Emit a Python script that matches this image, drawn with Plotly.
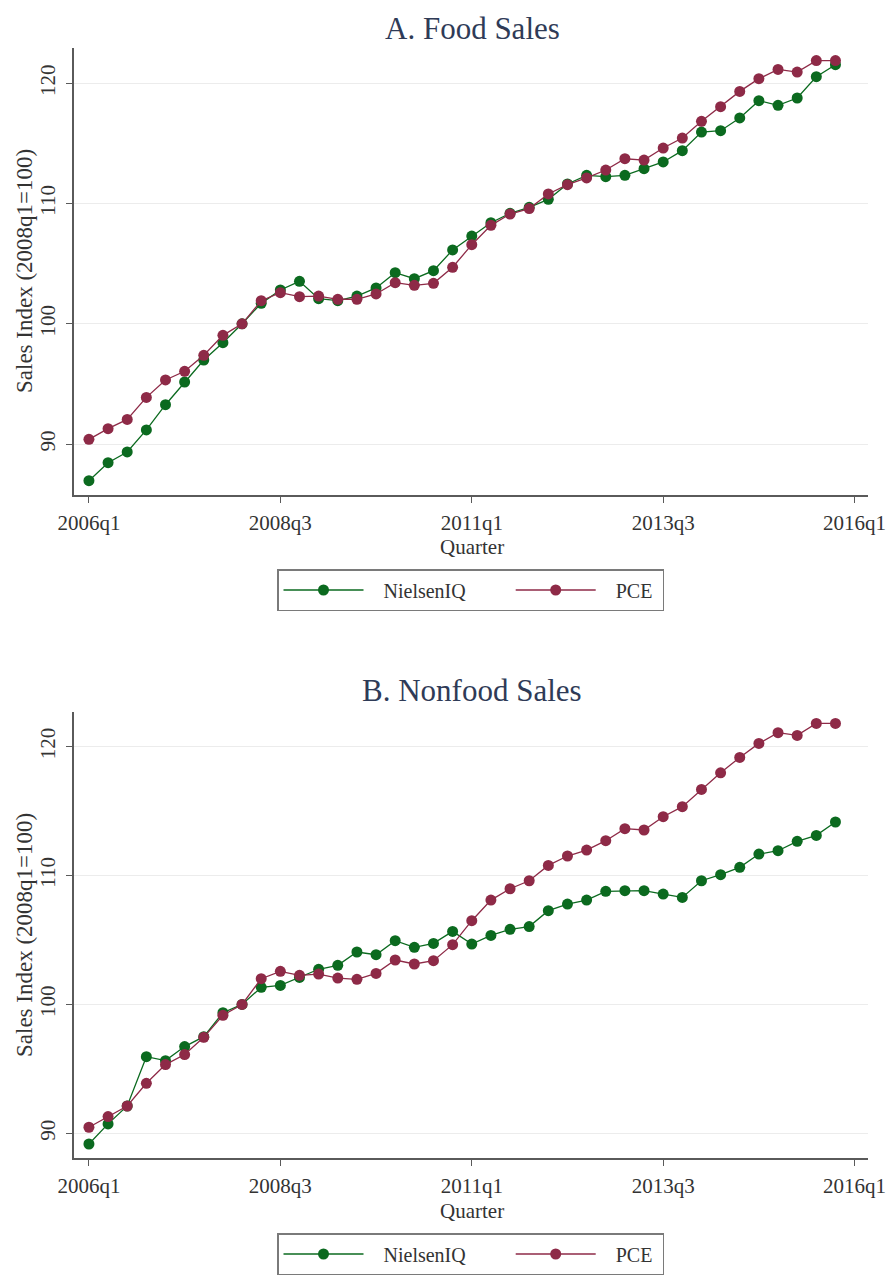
import plotly.graph_objects as go

# Quarter labels, 2006q1 .. 2015q4
quarters = [f"{y}q{q}" for y in range(2006, 2016) for q in range(1, 5)]
tick_labels = ["2006q1", "2008q3", "2011q1", "2013q3", "2016q1"]
tick_positions = [0, 10, 20, 30, 40]

# Panel A: food sales index (2008q1 = 100)
food_nielsen = [
    86.95, 88.45, 89.34, 91.17, 93.27, 95.16, 96.99, 98.43, 100.0, 101.7,
    102.81, 103.53, 102.09, 101.92, 102.31, 102.98, 104.25, 103.75, 104.42, 106.14,
    107.3, 108.41, 109.19, 109.69, 110.35, 111.63, 112.35, 112.24, 112.35, 112.9,
    113.46, 114.4, 115.95, 116.06, 117.12, 118.56, 118.17, 118.78, 120.55, 121.55,
]
food_pce = [
    90.39, 91.28, 92.05, 93.88, 95.33, 96.05, 97.38, 99.04, 100.0, 101.92,
    102.59, 102.26, 102.31, 102.04, 102.04, 102.48, 103.42, 103.2, 103.37, 104.7,
    106.58, 108.19, 109.13, 109.58, 110.8, 111.57, 112.13, 112.79, 113.73, 113.62,
    114.62, 115.45, 116.84, 118.06, 119.33, 120.39, 121.16, 120.94, 121.89, 121.89,
]

# Panel B: nonfood sales index (2008q1 = 100)
nonfood_nielsen = [
    89.17, 90.73, 92.12, 95.95, 95.64, 96.73, 97.5, 99.36, 100.0, 101.33,
    101.48, 102.1, 102.73, 103.04, 104.07, 103.86, 104.95, 104.43, 104.74, 105.67,
    104.69, 105.36, 105.83, 106.04, 107.28, 107.79, 108.1, 108.78, 108.83, 108.83,
    108.57, 108.31, 109.6, 110.07, 110.64, 111.67, 111.93, 112.66, 113.12, 114.16,
]
nonfood_pce = [
    90.47, 91.3, 92.12, 93.88, 95.33, 96.11, 97.45, 99.16, 100.0, 102.0,
    102.57, 102.26, 102.36, 102.05, 101.95, 102.41, 103.45, 103.14, 103.4, 104.64,
    106.5, 108.1, 108.98, 109.6, 110.79, 111.52, 111.98, 112.71, 113.64, 113.54,
    114.57, 115.35, 116.69, 117.98, 119.17, 120.26, 121.09, 120.88, 121.81, 121.81,
]

GREEN = "#0b6a1f"
RED = "#8e2a47"
FONT = "Liberation Serif"
TITLE_COLOR = "#2f3b57"
TEXT_COLOR = "#333333"
AXIS_COLOR = "#5a5a5a"
GRID_COLOR = "#ececec"
NBSP = "\u00a0"

x_idx = list(range(len(quarters)))

fig = go.Figure()

# legend entries: a little padding around the labels, as in the Stata legend key
legend_names = {
    "NielsenIQ": NBSP * 3 + "NielsenIQ" + NBSP * 8,
    "PCE": NBSP * 3 + "PCE" + NBSP,
}

panels = [
    ("", "", "legend", food_nielsen, food_pce),
    ("2", "2", "legend2", nonfood_nielsen, nonfood_pce),
]
for xs, ys, leg, nielsen, pce in panels:
    for name, vals, color in (("NielsenIQ", nielsen, GREEN), ("PCE", pce, RED)):
        fig.add_trace(go.Scatter(
            x=x_idx, y=vals, name=legend_names[name], mode="lines+markers",
            xaxis="x" + xs, yaxis="y" + ys, legend=leg,
            line=dict(color=color, width=1.3),
            marker=dict(color=color, size=11, line=dict(width=0)),
            customdata=[quarters[i] for i in x_idx],
            hovertemplate="%{customdata}: %{y:.1f}<extra>" + name + "</extra>",
        ))

x_dom = [74 / 891, 868 / 891]


def xaxis_cfg(anchor):
    return dict(
        domain=x_dom, anchor=anchor, range=[-0.78, 40.7], automargin=False,
        tickvals=tick_positions, ticktext=tick_labels,
        ticks="outside", ticklen=6, tickwidth=1.2, tickcolor=AXIS_COLOR,
        showline=True, linecolor=AXIS_COLOR, linewidth=1.5,
        showgrid=False, zeroline=False,
        tickfont=dict(family=FONT, size=21, color=TEXT_COLOR),
        ticklabelstandoff=2,
    )


def yaxis_cfg(anchor, dom, rng):
    return dict(
        domain=dom, anchor=anchor, range=rng, automargin=False,
        tickvals=[90, 100, 110, 120], tickangle=-90,
        ticks="outside", ticklen=6, tickwidth=1.2, tickcolor=AXIS_COLOR,
        showline=True, linecolor=AXIS_COLOR, linewidth=1.5,
        showgrid=True, gridcolor=GRID_COLOR, gridwidth=1.2, zeroline=False,
        tickfont=dict(family=FONT, size=21, color=TEXT_COLOR),
        ticklabelstandoff=3,
    )


def legend_cfg(ytop):
    return dict(
        orientation="h", x=277 / 891, y=ytop, xanchor="left", yanchor="top",
        bordercolor="#7a7a7a", borderwidth=1.5, bgcolor="white",
        font=dict(family=FONT, size=20, color=TEXT_COLOR),
        itemwidth=80, tracegroupgap=0,
    )


def text_note(text, x_px, y_px, size, color, angle=0):
    return dict(text=text, x=x_px / 891, y=1 - y_px / 1276, xref="paper", yref="paper",
                showarrow=False, xanchor="center", yanchor="middle", textangle=angle,
                font=dict(family=FONT, size=size, color=color))


fig.update_layout(
    width=891, height=1276,
    margin=dict(l=0, r=0, t=0, b=0),
    paper_bgcolor="white", plot_bgcolor="white",
    showlegend=True,
    xaxis=xaxis_cfg("y"),
    yaxis=yaxis_cfg("x", [1 - 495 / 1276, 1 - 48 / 1276], [85.76, 122.94]),
    xaxis2=xaxis_cfg("y2"),
    yaxis2=yaxis_cfg("x2", [1 - 1158.3 / 1276, 1 - 711.7 / 1276], [88.06, 122.72]),
    legend=legend_cfg(1 - 569 / 1276),
    legend2=legend_cfg(1 - 1233 / 1276),
    annotations=[
        text_note("A. Food Sales", 472, 28, 31, TITLE_COLOR),
        text_note("B. Nonfood Sales", 472, 690, 31, TITLE_COLOR),
        text_note("Sales Index (2008q1=100)", 24, 271, 23, TEXT_COLOR, -90),
        text_note("Sales Index (2008q1=100)", 24, 935, 23, TEXT_COLOR, -90),
        text_note("Quarter", 472, 547, 21, TEXT_COLOR),
        text_note("Quarter", 472, 1211, 21, TEXT_COLOR),
    ],
)

fig.write_html("out.html")
